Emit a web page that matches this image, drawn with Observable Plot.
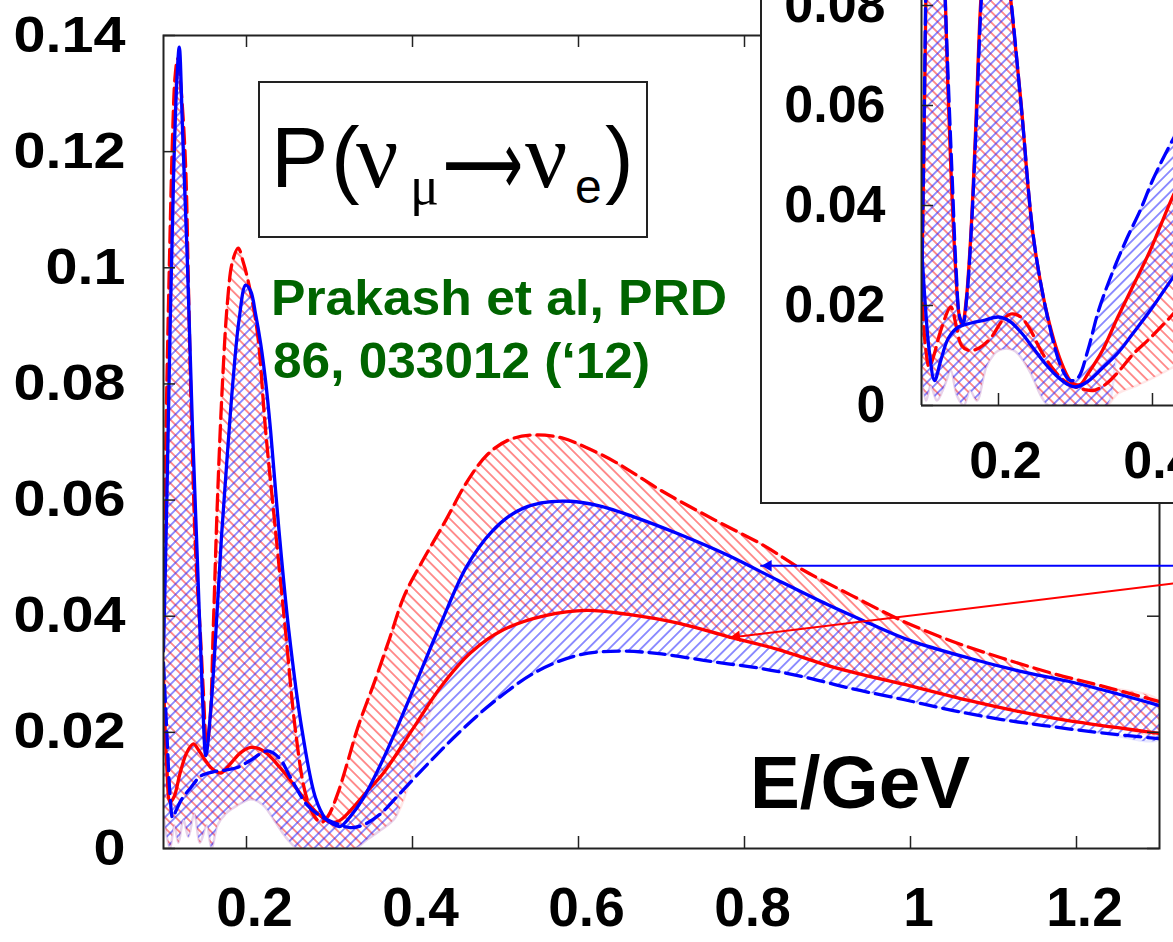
<!DOCTYPE html>
<html>
<head>
<meta charset="utf-8">
<script src="https://cdn.jsdelivr.net/npm/d3@7"></script>
<script src="https://cdn.jsdelivr.net/npm/@observablehq/plot@0.6"></script>
<style>
html,body{margin:0;padding:0;background:#fff;}
#wrap{position:relative;width:1173px;height:942px;overflow:hidden;font-family:"Liberation Sans",Arial,sans-serif;}
#main{position:absolute;left:0;top:0;}
#insetBox{position:absolute;left:760px;top:-4px;width:440px;height:508px;border:2px solid #222;background:#fff;box-sizing:border-box;}
#inset{position:absolute;left:762px;top:0;}
#notes{position:absolute;left:0;top:0;pointer-events:none;}
</style>
</head>
<body>
<svg width="0" height="0" style="position:absolute">
  <defs>
    <pattern id="hatchRed" patternUnits="userSpaceOnUse" width="7.5" height="7.5" patternTransform="rotate(-45)">
      <line x1="3.75" y1="-1" x2="3.75" y2="9" stroke="#ff2020" stroke-width="1.4" stroke-opacity="0.7"/>
    </pattern>
    <pattern id="hatchBlue" patternUnits="userSpaceOnUse" width="7.5" height="7.5" patternTransform="rotate(45)">
      <line x1="3.75" y1="-1" x2="3.75" y2="9" stroke="#2020ff" stroke-width="1.4" stroke-opacity="0.7"/>
    </pattern>
  </defs>
</svg>
<div id="wrap">
  <div id="main"></div>
  <div id="insetBox"></div>
  <div id="inset"></div>
  <svg id="notes" width="1173" height="942">
    <rect x="259" y="82" width="388" height="155" fill="none" stroke="#222" stroke-width="2"/>
    <text font-family="Liberation Sans" font-size="86" y="187"><tspan x="271">P</tspan><tspan x="331">(</tspan></text>
    <text font-family="Liberation Serif" font-size="94" x="356" y="187">ν</text>
    <text font-family="Liberation Serif" font-size="54" x="410" y="204">μ</text>
    <text font-family="DejaVu Sans" font-size="92" x="443" y="195" textLength="80" lengthAdjust="spacingAndGlyphs">⟶</text>
    <text font-family="Liberation Serif" font-size="94" x="525" y="187">ν</text>
    <text font-family="Liberation Sans" font-size="48" x="575" y="203">e</text>
    <text font-family="Liberation Sans" font-size="86" x="605" y="187">)</text>
    <text font-family="Liberation Sans" font-weight="bold" font-size="50" fill="#006400" x="271" y="315" textLength="456" lengthAdjust="spacingAndGlyphs">Prakash et al, PRD</text>
    <text font-family="Liberation Sans" font-weight="bold" font-size="50" fill="#006400" x="273" y="378" textLength="377" lengthAdjust="spacingAndGlyphs">86, 033012 (‘12)</text>
    <text font-family="Liberation Sans" font-weight="bold" font-size="75" fill="#000" x="750" y="808" textLength="220" lengthAdjust="spacingAndGlyphs">E/GeV</text>
  </svg>
</div>
<script>
// ---------------- main panel data ----------------
const xTicks = [0.2, 0.4, 0.6, 0.8, 1, 1.2];
const yTicks = [0, 0.02, 0.04, 0.06, 0.08, 0.1, 0.12, 0.14];
const xDomain = [0.1, 1.3];
const yDomain = [0, 0.14];

const blueSolidX = [0.1,0.104,0.108,0.112,0.116,0.119,0.123,0.129,0.135,0.141,0.147,0.151,0.157,0.163,0.17,0.177,0.184,0.191,0.199,0.205,0.211,0.217,0.223,0.229,0.239,0.251,0.267,0.283,0.295,0.304,0.313,0.325,0.34,0.365,0.396,0.434,0.465,0.495,0.525,0.555,0.59,0.625,0.665,0.72,0.78,0.84,0.9,0.95,1.0,1.07,1.13,1.19,1.25,1.3];
const blueSolidY = [0.034,0.06,0.09,0.115,0.132,0.138,0.1235,0.1,0.072,0.049,0.026,0.016,0.024,0.037,0.054,0.068,0.081,0.091,0.097,0.096,0.092,0.087,0.0805,0.072,0.055,0.0375,0.0203,0.0088,0.0052,0.0042,0.0038,0.0055,0.0085,0.0155,0.0257,0.0387,0.0485,0.0545,0.058,0.0595,0.0598,0.059,0.0572,0.0542,0.0505,0.0462,0.042,0.0388,0.0358,0.0328,0.0306,0.0288,0.0266,0.0246];

const redDashedX = [0.1,0.103,0.107,0.111,0.114,0.117,0.121,0.1265,0.13,0.1335,0.139,0.144,0.148,0.152,0.156,0.16,0.165,0.171,0.177,0.183,0.19,0.196,0.202,0.213,0.223,0.235,0.247,0.259,0.271,0.282,0.29,0.298,0.31,0.322,0.334,0.355,0.372,0.39,0.41,0.44,0.465,0.49,0.515,0.545,0.58,0.61,0.645,0.7,0.765,0.823,0.87,0.93,0.99,1.05,1.11,1.17,1.23,1.3];
const redDashedY = [0.045,0.072,0.1,0.123,0.133,0.136,0.131,0.118,0.097,0.075,0.05,0.038,0.027,0.018,0.022,0.038,0.06,0.08,0.094,0.101,0.1034,0.101,0.0977,0.089,0.072,0.0547,0.0375,0.0203,0.0095,0.0055,0.0045,0.0055,0.0095,0.015,0.0208,0.029,0.036,0.0435,0.049,0.0565,0.063,0.0678,0.0703,0.0712,0.0707,0.069,0.0665,0.0616,0.0565,0.0522,0.048,0.0435,0.0392,0.0357,0.0328,0.0302,0.028,0.0253];

const redSolidX = [0.1,0.104,0.108,0.113,0.12,0.128,0.136,0.142,0.148,0.158,0.169,0.18,0.193,0.205,0.215,0.225,0.24,0.253,0.27,0.286,0.301,0.312,0.325,0.345,0.365,0.4,0.434,0.47,0.51,0.56,0.61,0.66,0.72,0.78,0.84,0.91,1.0,1.07,1.13,1.19,1.25,1.3];
const redSolidY = [0.03,0.014,0.008,0.009,0.013,0.0165,0.018,0.017,0.0157,0.0138,0.013,0.0145,0.0165,0.0174,0.0172,0.0163,0.014,0.0117,0.0085,0.006,0.0045,0.0048,0.0065,0.0098,0.013,0.0205,0.0278,0.0337,0.0377,0.0401,0.041,0.0403,0.0388,0.0365,0.0343,0.0311,0.028,0.0255,0.0236,0.022,0.0208,0.0198];

const blueDashedX = [0.1,0.104,0.108,0.111,0.115,0.122,0.133,0.145,0.16,0.175,0.19,0.205,0.225,0.24,0.253,0.273,0.29,0.31,0.325,0.34,0.36,0.385,0.42,0.46,0.5,0.55,0.6,0.65,0.7,0.76,0.82,0.87,0.93,0.99,1.05,1.11,1.17,1.23,1.3];
const blueDashedY = [0.032,0.02,0.009,0.0053,0.0065,0.0085,0.0105,0.0125,0.0132,0.0135,0.014,0.0152,0.0168,0.0155,0.0122,0.0075,0.0055,0.0042,0.0036,0.004,0.0058,0.0095,0.0148,0.0205,0.0255,0.0305,0.0333,0.034,0.0335,0.0322,0.031,0.0296,0.0275,0.0257,0.0238,0.0222,0.021,0.0199,0.0189];

// lower edge of the hatched uncertainty bands at low energy
const bandFloorX = [0.1,0.104,0.108,0.113,0.118,0.124,0.13,0.137,0.144,0.152,0.158,0.165,0.175,0.19,0.205,0.22,0.235,0.25,0.262,0.3,0.33,0.345,0.36,0.38];
const bandFloorY = [0.006,0.002,0,0.004,0.001,0.005,0.002,0.006,0.001,0.004,0,0.004,0.006,0.0075,0.0085,0.0075,0.0045,0.0015,0,0,0,0.0015,0.003,0.0055];

// annotation arrows (blue -> blue solid curve, red -> red solid curve)
const arrowX1 = [1.36, 1.36];
const arrowY1 = [0.0487, 0.0464];
const arrowX2 = [0.819, 0.781];
const arrowY2 = [0.0487, 0.0363];
const arrowColor = ["#0000ff", "#ff0000"];

// ---------------- inset panel data ----------------
const insetXTicks = [0.2, 0.4];
const insetYTicks = [0, 0.02, 0.04, 0.06, 0.08];
const insetXDomain = [0.1, 0.4273];
const insetYDomain = [0, 0.081];

const insRedSolidX = [0.1,0.103,0.106,0.109,0.113,0.118,0.124,0.128,0.131,0.134,0.138,0.144,0.149,0.153,0.158,0.164,0.17,0.177,0.185,0.195,0.205,0.216,0.229,0.245,0.264,0.284,0.296,0.306,0.316,0.335,0.355,0.375,0.397,0.427,0.45];
const insRedSolidY = [0.02,0.05,0.085,0.115,0.135,0.14,0.12,0.095,0.081,0.065,0.048,0.028,0.018,0.016,0.021,0.034,0.054,0.081,0.097,0.103,0.096,0.081,0.061,0.034,0.0177,0.0077,0.0045,0.0042,0.0063,0.011,0.0177,0.024,0.031,0.042,0.049];

const insBlueDashedX = [0.1,0.103,0.106,0.11,0.114,0.119,0.124,0.128,0.132,0.136,0.14,0.145,0.15,0.154,0.159,0.165,0.171,0.178,0.186,0.196,0.206,0.217,0.23,0.246,0.265,0.282,0.293,0.303,0.316,0.33,0.349,0.367,0.384,0.4,0.419,0.44];
const insBlueDashedY = [0.021,0.052,0.088,0.12,0.136,0.139,0.119,0.094,0.076,0.06,0.045,0.027,0.0175,0.0165,0.022,0.036,0.056,0.082,0.097,0.102,0.095,0.08,0.059,0.033,0.0168,0.0075,0.005,0.0055,0.011,0.019,0.027,0.0335,0.039,0.045,0.051,0.057];

const insBlueSolidX = [0.1,0.105,0.11,0.117,0.125,0.135,0.148,0.165,0.18,0.2,0.215,0.23,0.245,0.26,0.275,0.29,0.3,0.316,0.335,0.355,0.375,0.397,0.415,0.43,0.45];
const insBlueSolidY = [0.032,0.02,0.011,0.005,0.009,0.0135,0.0157,0.0165,0.017,0.0177,0.0168,0.0145,0.0115,0.0085,0.006,0.0042,0.0037,0.0048,0.0075,0.0105,0.0145,0.019,0.023,0.0263,0.03];

const insRedDashedX = [0.1,0.105,0.11,0.116,0.125,0.138,0.145,0.152,0.162,0.175,0.19,0.205,0.216,0.228,0.24,0.255,0.27,0.285,0.3,0.312,0.323,0.335,0.345,0.36,0.375,0.397,0.419,0.44];
const insRedDashedY = [0.025,0.012,0.0077,0.01,0.015,0.0197,0.016,0.012,0.011,0.0115,0.0135,0.017,0.0183,0.0178,0.0155,0.011,0.0075,0.005,0.0037,0.0032,0.003,0.0038,0.005,0.0075,0.0103,0.0135,0.017,0.0205];

const insFloorX = [0.1,0.106,0.112,0.12,0.13,0.138,0.146,0.155,0.163,0.172,0.185,0.2,0.22,0.24,0.255,0.265,0.3,0.34,0.355,0.38,0.4,0.427,0.45];
const insFloorY = [0.006,0.001,0.004,0.001,0.004,0.007,0.002,0,0.003,0.001,0.008,0.011,0.011,0.007,0.002,0,0,0,0.0024,0.004,0.0055,0.0077,0.01];

// ---------------- helpers ----------------
const pts = (xs, ys) => xs.map((x, i) => ({x, y: ys[i]}));
const polygon = (upper, lower) => upper.concat(lower.slice().reverse());
const RED = "#ff0000", BLUE = "#0000ff";
const FONT = "Liberation Sans, Arial, sans-serif";
const fmt = d => String(d);

function curveMarks(series) {
  return series.map(s => Plot.line(s.data, {x: "x", y: "y", stroke: s.color, strokeWidth: 3.3,
    strokeDasharray: s.dashed ? "16,7" : null, curve: "catmull-rom", clip: true}));
}
function bandMarks(bands) {
  return bands.map(b => Plot.line(b.data, {x: "x", y: "y", fill: b.fill, stroke: b.halo,
    strokeOpacity: 0.15, strokeWidth: 2.5, curve: "catmull-rom", clip: true}));
}

// ---------------- main plot ----------------
const W = 1173, H = 942, ML = 163, MR = 14, MT = 35, MB = 94;
const FW = W - ML - MR, FH = H - MT - MB;

const blueSolid = pts(blueSolidX, blueSolidY);
const redDashed = pts(redDashedX, redDashedY);
const redSolid = pts(redSolidX, redSolidY);
const blueDashed = pts(blueDashedX, blueDashedY);
const floor = pts(bandFloorX, bandFloorY);

const redBand = polygon(redDashed, floor.concat(redSolid.filter(d => d.x > 0.42)));
const blueBand = polygon(blueSolid, floor.concat(blueDashed.filter(d => d.x > 0.38)));

const kx = FW / (xDomain[1] - xDomain[0]);
const ky = FH / (yDomain[1] - yDomain[0]);
const arrows = arrowX1.map((x1, i) => {
  const px = (arrowX2[i] - x1) * kx, py = -(arrowY2[i] - arrowY1[i]) * ky;
  const len = Math.hypot(px, py);
  return {x1, y1: arrowY1[i], x2: arrowX2[i], y2: arrowY2[i], color: arrowColor[i],
          rot: Math.atan2(py, px) * 180 / Math.PI + 90, ux: px / len, uy: py / len};
});

const mainPlot = Plot.plot({
  width: W, height: H, marginLeft: ML, marginRight: MR, marginTop: MT, marginBottom: MB,
  x: {domain: xDomain, label: null},
  y: {domain: yDomain, label: null},
  style: {fontFamily: FONT, background: "white", color: "#000"},
  marks: [
    ...bandMarks([
      {data: redBand, fill: "url(#hatchRed)", halo: "#ff6060"},
      {data: blueBand, fill: "url(#hatchBlue)", halo: "#6060ff"}
    ]),
    ...curveMarks([
      {data: redSolid, color: RED, dashed: false},
      {data: redDashed, color: RED, dashed: true},
      {data: blueDashed, color: BLUE, dashed: true},
      {data: blueSolid, color: BLUE, dashed: false}
    ]),
    Plot.frame({stroke: "#222", strokeWidth: 2}),
    Plot.tickX(xTicks, {x: d => d, insetTop: FH - 12, stroke: "#222", strokeWidth: 1.5}),
    Plot.tickX(xTicks, {x: d => d, insetBottom: FH - 12, stroke: "#222", strokeWidth: 1.5}),
    Plot.tickY(yTicks, {y: d => d, insetRight: FW - 12, stroke: "#222", strokeWidth: 1.5}),
    Plot.tickY(yTicks, {y: d => d, insetLeft: FW - 12, stroke: "#222", strokeWidth: 1.5}),
    Plot.axisX(xTicks, {tickSize: 0, tickPadding: 38, fontSize: 55, fontWeight: "bold", dx: 8, label: null, tickFormat: fmt}),
    Plot.axisY(yTicks, {tickSize: 0, tickPadding: 38, fontSize: 50, fontWeight: "bold", label: null, tickFormat: fmt}),
    ...arrows.flatMap(a => [
      Plot.link([a], {x1: "x1", y1: "y1", x2: "x2", y2: "y2", stroke: a.color, strokeWidth: 2}),
      Plot.dot([a], {x: "x2", y: "y2", symbol: "triangle2", r: 5.5, fill: a.color, stroke: "none",
        rotate: a.rot, dx: -a.ux * 8, dy: -a.uy * 8})
    ])
  ]
});
document.getElementById("main").appendChild(mainPlot);
mainPlot.querySelectorAll('[aria-label="y-axis tick label"] text').forEach(t => {
  const w = t.getComputedTextLength();
  t.setAttribute("textLength", w * 1.15);
  t.setAttribute("lengthAdjust", "spacingAndGlyphs");
});

// ---------------- inset plot ----------------
const IW = 411, IH = 500, IML = 159, IMR = 0, IMT = 0, IMB = 95;
const IFW = IW - IML - IMR, IFH = IH - IMT - IMB;

const iRedSolid = pts(insRedSolidX, insRedSolidY);
const iBlueDashed = pts(insBlueDashedX, insBlueDashedY);
const iBlueSolid = pts(insBlueSolidX, insBlueSolidY);
const iRedDashed = pts(insRedDashedX, insRedDashedY);
const iFloor = pts(insFloorX, insFloorY);

const iRedBand = polygon(iRedSolid, iFloor);
const iBlueBand = polygon(iBlueDashed, iFloor.filter(d => d.x <= 0.34).concat(iBlueSolid.filter(d => d.x > 0.34)));

const insetPlot = Plot.plot({
  width: IW, height: IH, marginLeft: IML, marginRight: IMR, marginTop: IMT, marginBottom: IMB,
  x: {domain: insetXDomain, label: null},
  y: {domain: insetYDomain, label: null},
  style: {fontFamily: FONT, background: "white", color: "#000"},
  marks: [
    ...bandMarks([
      {data: iRedBand, fill: "url(#hatchRed)", halo: "#ff6060"},
      {data: iBlueBand, fill: "url(#hatchBlue)", halo: "#6060ff"}
    ]),
    ...curveMarks([
      {data: iRedDashed, color: RED, dashed: true},
      {data: iRedSolid, color: RED, dashed: false},
      {data: iBlueSolid, color: BLUE, dashed: false},
      {data: iBlueDashed, color: BLUE, dashed: true}
    ]),
    Plot.ruleX([insetXDomain[0]], {stroke: "#222", strokeWidth: 2}),
    Plot.ruleY([insetYDomain[0]], {stroke: "#222", strokeWidth: 2}),
    Plot.tickX(insetXTicks, {x: d => d, insetTop: IFH - 12, stroke: "#222", strokeWidth: 1.5}),
    Plot.tickY(insetYTicks, {y: d => d, insetRight: IFW - 12, stroke: "#222", strokeWidth: 1.5}),
    Plot.axisX(insetXTicks, {tickSize: 0, tickPadding: 36, fontSize: 52, fontWeight: "bold", dx: 7, label: null, tickFormat: fmt}),
    Plot.axisY(insetYTicks, {tickSize: 0, tickPadding: 36, fontSize: 52, fontWeight: "bold", label: null, tickFormat: fmt})
  ]
});
document.getElementById("inset").appendChild(insetPlot);
</script>
</body>
</html>
